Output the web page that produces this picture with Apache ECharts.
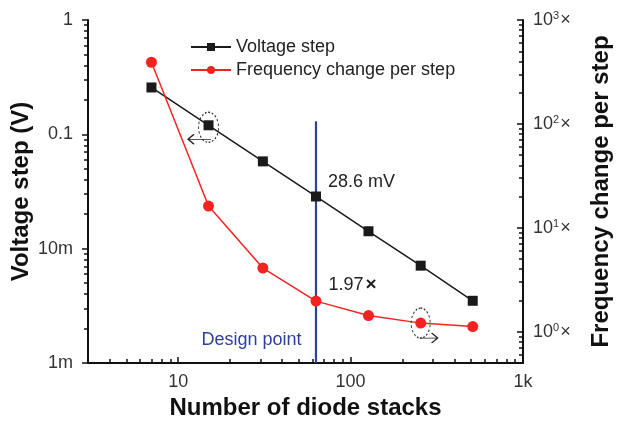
<!DOCTYPE html>
<html>
<head>
<meta charset="utf-8">
<script src="https://cdn.jsdelivr.net/npm/echarts@6/dist/echarts.min.js"></script>
<style>
  html, body { margin: 0; padding: 0; background: #fff; }
  #chart { width: 619px; height: 430px; }
</style>
</head>
<body>
<div id="chart"></div>
<script>
// data
const stacks = [7, 15, 31, 63, 127, 255, 511];
const voltageStep = [0.257, 0.12, 0.058, 0.0286, 0.0142, 0.0071, 0.0035];
const freqChange = [392, 16.2, 4.1, 1.97, 1.43, 1.21, 1.12];

const designStacks = 63;
const designLineTop = 0.13;
const designLineBottom = 0.001;
const designLabelAt = 0.0016;

const xTickValues = [10, 100, 1000];
const xTickLabels = ['10', '100', '1k'];
const leftTickValues = [0.001, 0.01, 0.1, 1];
const leftTickLabels = ['1m', '10m', '0.1', '1'];
const rightTickValues = [1, 10, 100, 1000];
const rightTickExp = ['0', '1', '2', '3'];

const FONT = 'Liberation Sans, Arial, sans-serif';
const BLUE = '#2e3f9e';
const RED = '#f4231f';
const BLACK = '#1a1a1a';

function pick(values, labels, v) {
  for (let i = 0; i < values.length; i++) {
    if (Math.abs(Math.log10(v) - Math.log10(values[i])) < 0.01) return labels[i];
  }
  return '';
}

const chart = echarts.init(document.getElementById('chart'));

const ellipsePath = 'path://M0,-15 A10,15 0 1,1 0,15 A10,15 0 1,1 0,-15 Z';
const leftArrow = 'path://M0,5 L23,5 M6,0 L0,5 L6,10';
const rightArrow = 'path://M0,5 L18,5 M12,0 L18,5 L12,10';

const vData = stacks.map((x, i) => {
  const item = { value: [x, voltageStep[i]] };
  if (x === designStacks) {
    item.label = {
      show: true, position: 'right', formatter: '28.6 mV',
      offset: [2, -14], fontSize: 18, color: '#222', fontFamily: FONT
    };
  }
  return item;
});
const fData = stacks.map((x, i) => {
  const item = { value: [x, freqChange[i]] };
  if (x === designStacks) {
    item.label = {
      show: true, position: 'right', formatter: '{n|1.97}{x|\u00d7}',
      offset: [2, -16], fontFamily: FONT,
      rich: {
        n: { fontSize: 18, color: '#222', fontFamily: FONT },
        x: { fontSize: 19, color: '#222', fontWeight: 'bold', fontFamily: FONT, padding: [0, 0, 0, 2] }
      }
    };
  }
  return item;
});

const dotted = { color: 'rgba(0,0,0,0)', borderColor: '#333', borderWidth: 1.2, borderType: [2, 2] };
const arrowStyle = { color: 'rgba(0,0,0,0)', borderColor: '#222', borderWidth: 1.2 };

const option = {
  animation: false,
  textStyle: { fontFamily: FONT },
  grid: { left: 88, right: 96, top: 20, bottom: 67, outerBoundsMode: 'none', containLabel: false },
  legend: {
    orient: 'vertical',
    left: 185,
    top: 33,
    itemWidth: 40,
    itemHeight: 10,
    itemGap: 5,
    textStyle: { fontSize: 18, color: '#222', fontFamily: FONT },
    data: ['Voltage step', 'Frequency change per step']
  },
  xAxis: {
    type: 'log',
    logBase: 10,
    min: 3,
    max: 1000,
    name: 'Number of diode stacks',
    nameLocation: 'middle',
    nameGap: 33,
    nameMoveOverlap: false,
    nameTextStyle: { fontSize: 24, fontWeight: 'bold', color: '#111', fontFamily: FONT },
    axisLine: { lineStyle: { color: '#111', width: 2 } },
    axisTick: { inside: true, length: 6, lineStyle: { color: '#111', width: 1.5 } },
    minorTick: { show: true, splitNumber: 9, length: 4, lineStyle: { color: '#111', width: 1.5 } },
    splitLine: { show: false },
    axisLabel: {
      fontSize: 18, color: '#333', margin: 10, showMinLabel: false,
      formatter: v => pick(xTickValues, xTickLabels, v)
    }
  },
  yAxis: [
    {
      type: 'log',
      logBase: 10,
      min: 0.001,
      max: 1,
      position: 'left',
      name: 'Voltage step (V)',
      nameLocation: 'middle',
      nameGap: 55,
      nameMoveOverlap: false,
      nameTextStyle: { fontSize: 24, fontWeight: 'bold', color: '#111', fontFamily: FONT },
      axisLine: { show: true, lineStyle: { color: '#111', width: 2 } },
      axisTick: { inside: false, length: 6, lineStyle: { color: '#111', width: 1.5 } },
      minorTick: { show: true, splitNumber: 9, length: 4, lineStyle: { color: '#111', width: 1.5 } },
      splitLine: { show: false },
      axisLabel: {
        fontSize: 18, color: '#333', margin: 15,
        formatter: v => pick(leftTickValues, leftTickLabels, v)
      }
    },
    {
      type: 'log',
      logBase: 10,
      min: 0.5,
      max: 1000,
      position: 'right',
      name: 'Frequency change per step',
      nameLocation: 'middle',
      nameGap: 66,
      nameMoveOverlap: false,
      nameTextStyle: { fontSize: 24, fontWeight: 'bold', color: '#111', fontFamily: FONT },
      axisLine: { show: true, lineStyle: { color: '#111', width: 2 } },
      axisTick: { inside: true, length: 6, lineStyle: { color: '#111', width: 1.5 } },
      minorTick: { show: true, splitNumber: 9, length: 4, lineStyle: { color: '#111', width: 1.5 } },
      splitLine: { show: false },
      axisLabel: {
        margin: 10, showMinLabel: false,
        formatter: v => {
          const e = pick(rightTickValues, rightTickExp, v);
          return e === '' ? '' : '{b|10}{s|' + e + '}{b|\u00d7}';
        },
        rich: {
          b: { fontSize: 18, color: '#333', fontFamily: FONT },
          s: { fontSize: 11, color: '#333', fontFamily: FONT, verticalAlign: 'top', padding: [0, 1, 8, 0] }
        }
      }
    }
  ],
  series: [
    {
      name: 'Voltage step',
      type: 'line',
      yAxisIndex: 0,
      data: vData,
      symbol: 'rect',
      symbolSize: 10,
      lineStyle: { color: BLACK, width: 1.5 },
      itemStyle: { color: BLACK },
      markPoint: {
        silent: true,
        label: { show: false },
        data: [
          { coord: [stacks[1], voltageStep[1]], symbol: ellipsePath, symbolSize: [20, 30], symbolOffset: [0, 2], itemStyle: dotted },
          { coord: [stacks[1], voltageStep[1]], symbol: leftArrow, symbolSize: [23, 10], symbolOffset: [-9, 14], itemStyle: arrowStyle }
        ]
      }
    },
    {
      name: 'Frequency change per step',
      type: 'line',
      yAxisIndex: 1,
      data: fData,
      symbol: 'circle',
      symbolSize: 11,
      lineStyle: { color: RED, width: 1.5 },
      itemStyle: { color: RED },
      markPoint: {
        silent: true,
        label: { show: false },
        data: [
          { coord: [stacks[5], freqChange[5]], symbol: ellipsePath, symbolSize: [19, 30], symbolOffset: [0, 0], itemStyle: dotted },
          { coord: [stacks[5], freqChange[5]], symbol: rightArrow, symbolSize: [18, 10], symbolOffset: [8, 15], itemStyle: arrowStyle }
        ]
      }
    },
    {
      name: 'Design point',
      type: 'line',
      yAxisIndex: 0,
      data: [[designStacks, designLineTop], [designStacks, designLineBottom]],
      symbol: 'none',
      lineStyle: { color: BLUE, width: 2.2 },
      z: 3,
      markPoint: {
        silent: true,
        symbol: 'circle',
        symbolSize: 1,
        itemStyle: { color: 'rgba(0,0,0,0)' },
        label: {
          show: true, position: 'left', distance: 14, formatter: 'Design point',
          fontSize: 18, color: BLUE, fontFamily: FONT
        },
        data: [{ coord: [designStacks, designLabelAt] }]
      }
    }
  ]
};

chart.setOption(option);
</script>
</body>
</html>
